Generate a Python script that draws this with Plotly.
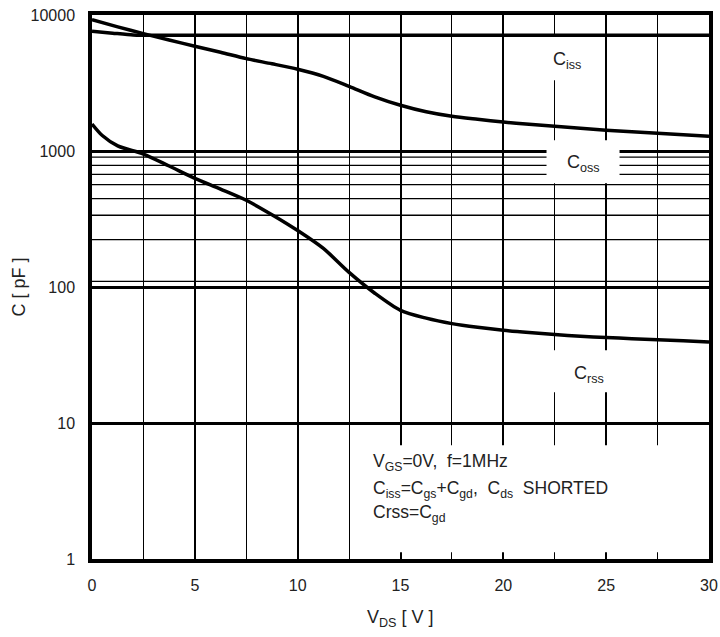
import plotly.graph_objects as go
import math

# ---- data ----
ciss_v = [0, 1, 2, 2.5, 5, 10, 15, 20, 25, 30]
ciss_c = [7600, 7350, 7130, 7100, 7100, 7100, 7100, 7100, 7100, 7100]

coss_v = [0, 1.25, 2.5, 3.75, 5, 6.25, 7.5, 8.75, 10, 11.25, 12.5, 13.75, 15, 16.25,
          17.5, 18.75, 20, 21.25, 22.5, 23.75, 25, 26.25, 27.5, 28.75, 30]
coss_c = [9250, 8187, 7297, 6549, 5886, 5317, 4778, 4376, 3988, 3541, 2989, 2500, 2168,
          1942, 1799, 1710, 1633, 1571, 1519, 1469, 1420, 1384, 1349, 1316, 1282]

crss_v = [0, 0.5, 1.25, 2.5, 3.75, 5, 6.25, 7.5, 8.75, 10, 11.25, 12.5, 13.75, 15, 16.25,
          17.5, 18.75, 20, 21.25, 22.5, 23.75, 25, 26.25, 27.5, 28.75, 30]
crss_c = [1580, 1300, 1090, 950, 776, 630, 525, 434, 340, 260, 192, 128, 90, 67.4, 59,
          53.8, 50.5, 48, 46.2, 44.7, 43.5, 42.5, 41.7, 41, 40.2, 39.4]

y_tickvals = [1, 10, 100, 1000, 10000]
y_ticktext = ["1", "10", "100", "1000", "10000"]
x_tickvals = [0, 5, 10, 15, 20, 25, 30]
y_minor_grid = [903, 785, 674, 566, 447, 337, 223, 110]

FONT = "Liberation Sans, Arial, sans-serif"
TXT = "#222222"

fig = go.Figure()
for v, c in [(ciss_v, ciss_c), (coss_v, coss_c), (crss_v, crss_c)]:
    fig.add_trace(go.Scatter(x=v, y=c, mode="lines",
                             line=dict(color="black", width=3.5, shape="spline", smoothing=0.8),
                             showlegend=False, hoverinfo="skip"))

shapes = []
for g in y_minor_grid:
    shapes.append(dict(type="line", xref="x", yref="y", x0=0, x1=30, y0=g, y1=g,
                       line=dict(color="black", width=1.3), layer="between"))

# white boxes behind labels
boxes = [
    (22.0, 23.7, 3311, 6970),     # Ciss label
    (22.1, 25.65, 579, 1199),     # Coss label
    (22.0, 25.4, 16.8, 34.2),     # Crss label
    (13.0, 29.9, 1.12, 6.86),     # condition text
]
for x0, x1, y0, y1 in boxes:
    shapes.append(dict(type="rect", xref="x", yref="y", x0=x0, x1=x1, y0=y0, y1=y1,
                       fillcolor="white", line=dict(width=0), layer="between"))

annotations = [
    dict(x=23.1, y=math.log10(4645), xref="x", yref="y", text="C<sub>iss</sub>",
         showarrow=False, font=dict(family=FONT, size=18, color=TXT)),
    dict(x=23.9, y=math.log10(811), xref="x", yref="y", text="C<sub>oss</sub>",
         showarrow=False, font=dict(family=FONT, size=18, color=TXT)),
    dict(x=24.15, y=math.log10(22.9), xref="x", yref="y", text="C<sub>rss</sub>",
         showarrow=False, font=dict(family=FONT, size=18, color=TXT)),
    dict(x=13.58, y=0.711, xref="x", yref="y", xanchor="left", yanchor="middle",
         text="V<sub>GS</sub>=0V,  f=1MHz", showarrow=False,
         font=dict(family=FONT, size=17.5, color=TXT)),
    dict(x=13.58, y=0.513, xref="x", yref="y", xanchor="left", yanchor="middle",
         text="C<sub>iss</sub>=C<sub>gs</sub>+C<sub>gd</sub>,  C<sub>ds</sub>  SHORTED",
         showarrow=False, font=dict(family=FONT, size=17.5, color=TXT)),
    dict(x=13.58, y=0.3375, xref="x", yref="y", xanchor="left", yanchor="middle",
         text="Crss=C<sub>gd</sub>", showarrow=False,
         font=dict(family=FONT, size=17.5, color=TXT)),
    # axis titles
    dict(x=-0.119, y=0.5, xref="paper", yref="paper", text="C [ pF ]", textangle=-90,
         showarrow=False, xanchor="center", yanchor="middle",
         font=dict(family=FONT, size=18, color=TXT)),
    dict(x=0.5, y=-0.11, xref="paper", yref="paper", text="V<sub>DS</sub> [ V ]",
         showarrow=False, xanchor="center", yanchor="middle",
         font=dict(family=FONT, size=18, color=TXT)),
]

fig.update_layout(
    width=720, height=637,
    margin=dict(l=92, r=11, t=15, b=78, autoexpand=False),
    paper_bgcolor="white", plot_bgcolor="white",
    shapes=shapes, annotations=annotations,
    font=dict(family=FONT, size=16, color=TXT),
)
fig.update_xaxes(range=[0, 30], tickvals=x_tickvals, ticks="", ticklabelstandoff=9,
                 automargin=False,
                 showgrid=True, gridcolor="black", gridwidth=2,
                 minor=dict(dtick=2.5, tick0=0, showgrid=True, gridcolor="black", gridwidth=1.2),
                 showline=True, linecolor="black", linewidth=3.5, mirror=True, zeroline=False,
                 tickfont=dict(family=FONT, size=16, color=TXT))
fig.update_yaxes(type="log", range=[0, 4], tickvals=y_tickvals, ticktext=y_ticktext,
                 ticks="", ticklabelstandoff=10, automargin=False,
                 showgrid=True, gridcolor="black", gridwidth=2.5,
                 showline=True, linecolor="black", linewidth=3.5, mirror=True, zeroline=False,
                 tickfont=dict(family=FONT, size=16, color=TXT))

fig.write_html("out.html")
